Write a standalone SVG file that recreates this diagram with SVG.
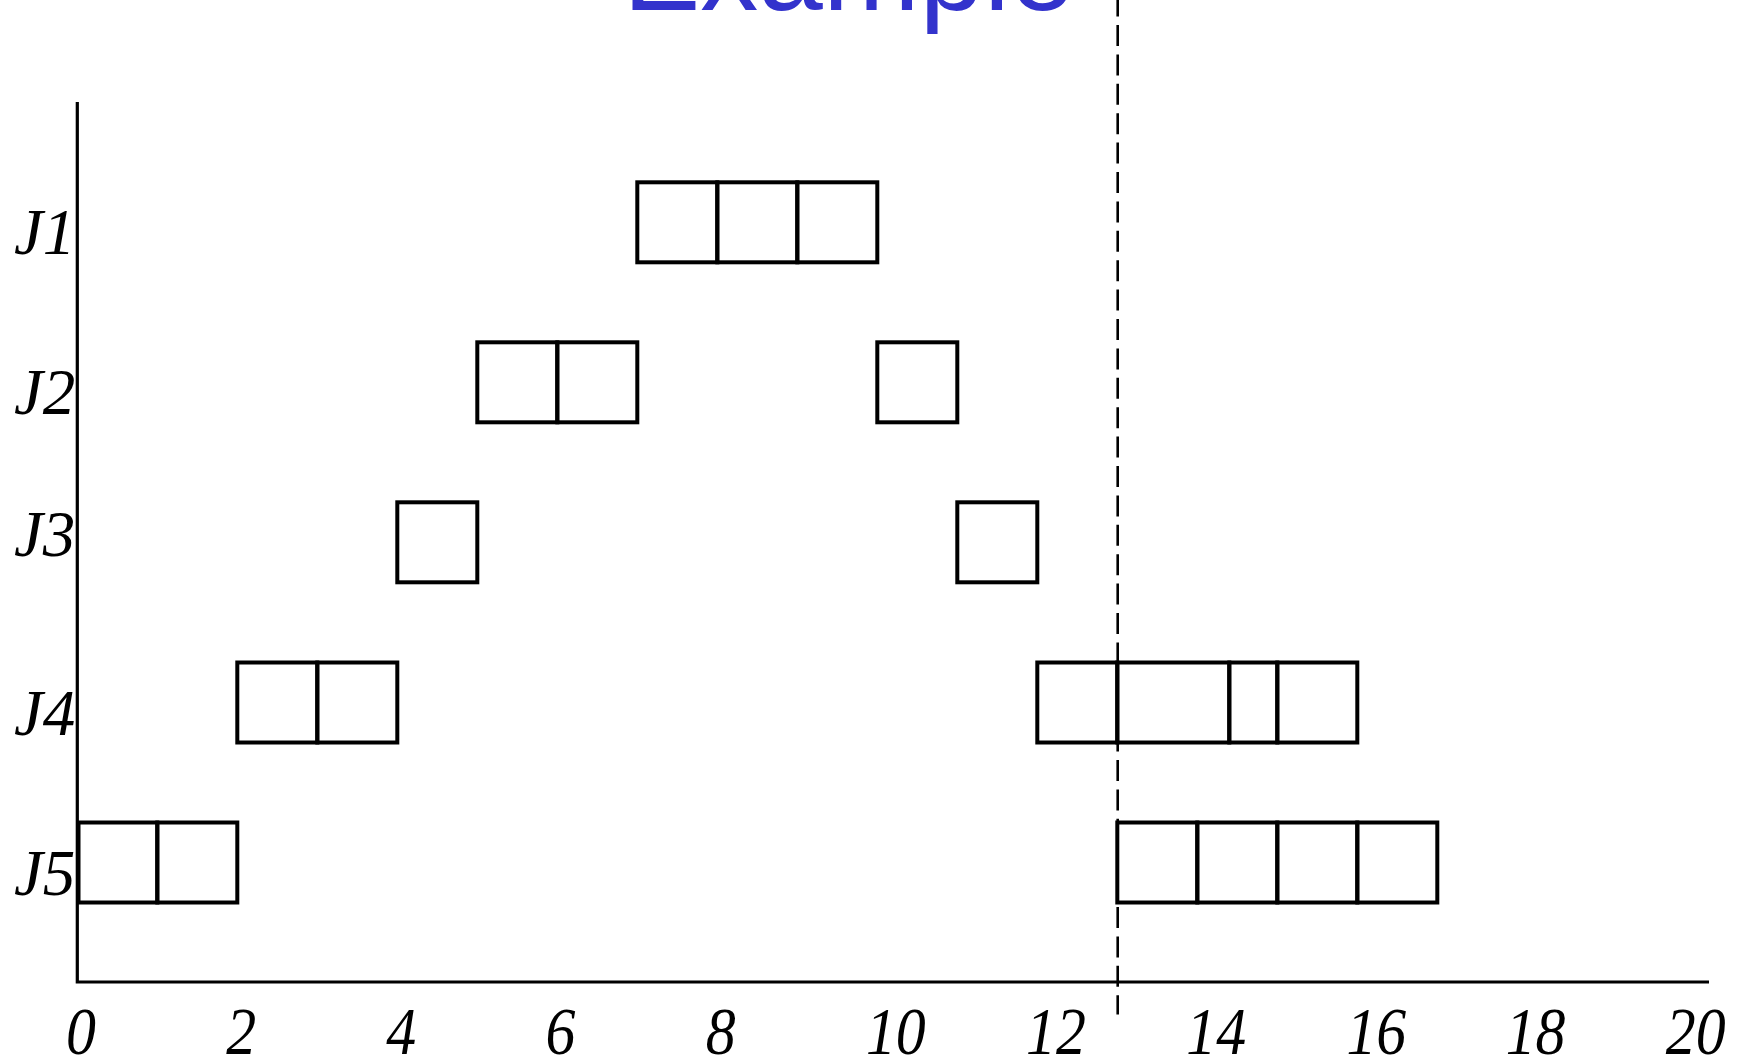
<svg xmlns="http://www.w3.org/2000/svg" width="1747" height="1063" viewBox="0 0 1747 1063">
<style>
.box{fill:none;stroke:#000;stroke-width:4}
.axis{fill:none;stroke:#000;stroke-width:3.2}
.lbl{font-family:"Liberation Serif","Times New Roman",serif;font-style:italic;font-size:65px;fill:#000}
.num{font-family:"Liberation Serif","Times New Roman",serif;font-style:italic;font-size:68px;fill:#000}
.title{font-family:"Liberation Sans",Arial,sans-serif;font-size:116px;fill:#3333CC}
</style>
<rect width="1747" height="1063" fill="#fff"/>
<text class="title" x="623" y="10">Example</text>
<g id="axes">
<path class="axis" d="M77.3,102 V982 H1709"/>
</g>
<g id="ylabels">
<text class="lbl" x="14" y="254">J1</text>
<text class="lbl" x="14" y="414">J2</text>
<text class="lbl" x="14" y="556">J3</text>
<text class="lbl" x="14" y="735">J4</text>
<text class="lbl" x="14" y="895">J5</text>
</g>
<g id="xlabels" transform="scale(0.88,1)">
<text class="num" x="75" y="1054">0</text>
<text class="num" x="257" y="1054">2</text>
<text class="num" x="439" y="1054">4</text>
<text class="num" x="620" y="1054">6</text>
<text class="num" x="802" y="1054">8</text>
<text class="num" x="984" y="1054">10</text>
<text class="num" x="1166" y="1054">12</text>
<text class="num" x="1348" y="1054">14</text>
<text class="num" x="1530" y="1054">16</text>
<text class="num" x="1711" y="1054">18</text>
<text class="num" x="1893" y="1054">20</text>
</g>
<g id="J1">
<rect class="box" x="637.3" y="182.3" width="80" height="80"/>
<rect class="box" x="717.3" y="182.3" width="80" height="80"/>
<rect class="box" x="797.3" y="182.3" width="80" height="80"/>
</g>
<g id="J2">
<rect class="box" x="477.3" y="342.3" width="80" height="80"/>
<rect class="box" x="557.3" y="342.3" width="80" height="80"/>
<rect class="box" x="877.3" y="342.3" width="80" height="80"/>
</g>
<g id="J3">
<rect class="box" x="397.3" y="502.3" width="80" height="80"/>
<rect class="box" x="957.3" y="502.3" width="80" height="80"/>
</g>
<g id="J4">
<rect class="box" x="237.3" y="662.5" width="80" height="80"/>
<rect class="box" x="317.3" y="662.5" width="80" height="80"/>
<rect class="box" x="1037.3" y="662.5" width="80" height="80"/>
<rect class="box" x="1117.3" y="662.5" width="112" height="80"/>
<rect class="box" x="1229.3" y="662.5" width="48" height="80"/>
<rect class="box" x="1277.3" y="662.5" width="80" height="80"/>
</g>
<g id="J5">
<rect class="box" x="78.5" y="822.5" width="78.8" height="80"/>
<rect class="box" x="157.3" y="822.5" width="80" height="80"/>
<rect class="box" x="1117.3" y="822.5" width="80" height="80"/>
<rect class="box" x="1197.3" y="822.5" width="80" height="80"/>
<rect class="box" x="1277.3" y="822.5" width="80" height="80"/>
<rect class="box" x="1357.3" y="822.5" width="80" height="80"/>
</g>
<g id="connectors">
<line x1="1117.7" y1="-4.4" x2="1117.7" y2="1014.5" stroke="#000" stroke-width="2.6" stroke-dasharray="21 8.4"/>
</g>
</svg>
